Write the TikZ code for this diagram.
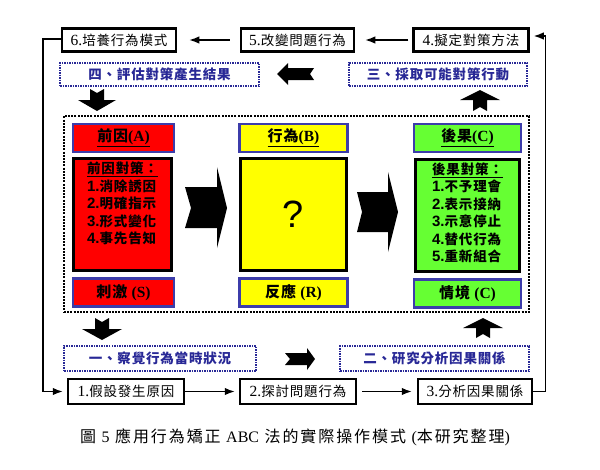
\documentclass[tikz,border=0pt]{standalone}
\usepackage{fontspec}
\setmainfont{Liberation Serif}
\setsansfont{Liberation Sans}
\newfontfamily\cjk{Noto Sans CJK TC}[LetterSpace=6]
\usepackage{tikz}
\usetikzlibrary{arrows.meta,positioning,calc}
\definecolor{antred}{RGB}{255,0,0}
\definecolor{behyellow}{RGB}{255,255,0}
\definecolor{conqgreen}{RGB}{102,255,51}
\definecolor{edgeblue}{RGB}{60,60,170}
\definecolor{stepnavy}{RGB}{40,40,150}
\newcommand{\latpart}[1]{{\rmfamily\fontsize{15.5}{16}\selectfont #1}}
\newcommand{\itemno}[1]{{\sffamily\fontsize{15}{17.5}\selectfont #1}}

\begin{document}
\begin{tikzpicture}[x=1pt, y=-1pt,
        stepbox/.style={draw, line width=2.5pt, minimum width=113pt, minimum height=23pt, inner sep=0pt, font=\fontsize{13.5}{14}\selectfont\cjk},
        phase/.style={draw=stepnavy, line width=2pt, dash pattern=on 1.5pt off 1pt, minimum height=23pt, inner sep=0pt, text=stepnavy, font=\fontsize{13.5}{14}\selectfont\cjk\bfseries},
        frame/.style={draw, line width=2.5pt, dash pattern=on 2pt off 1.2pt, inner sep=0pt},
        head/.style={draw=edgeblue, line width=2.5pt, minimum height=28pt, inner sep=0pt, font=\fontsize{15}{16}\selectfont\cjk\bfseries},
        core/.style={draw=black, line width=3pt, minimum height=112pt, inner sep=0pt},
        list/.style={align=left, inner sep=0pt, font=\fontsize{13.5}{17.5}\selectfont\cjk\bfseries},
        arrow/.style={-{Latex[length=10pt,width=7.5pt]}, line width=1.5pt}]

        \useasboundingbox (0,0) rectangle (600,469);

        \node[stepbox, minimum width=114pt] (six) at (119,40) {\latpart{6.}培養行為模式};
        \node[stepbox] (five) at (297.5,40) {\latpart{5.}改變問題行為};
        \node[stepbox, minimum width=115pt] (four) at (471,40) {\latpart{4.}擬定對策方法};
        \node[stepbox, minimum width=116pt, minimum height=25pt] (one) at (126,391.5) {\latpart{1.}假設發生原因};
        \node[stepbox, minimum width=116pt, minimum height=25pt] (two) at (298,391.5) {\latpart{2.}探討問題行為};
        \node[stepbox, minimum width=114pt, minimum height=25pt] (three) at (475,391.5) {\latpart{3.}分析因果關係};

        \node[phase, minimum width=199pt] (eval) at (159.5,74.5) {四、評估對策產生結果};
        \node[phase, minimum width=178pt] (act) at (438,74.5) {三、採取可能對策行動};
        \node[phase, minimum width=192pt, minimum height=25pt] (aware) at (160,358.5) {一、察覺行為當時狀況};
        \node[phase, minimum width=189pt, minimum height=25pt] (study) at (434.5,358.5) {二、研究分析因果關係};

        \node[frame, minimum width=465pt, minimum height=196pt] (abc) at (296.5,214) {};

        \node[head, fill=antred, minimum width=101pt] (ante) at (123.5,138) {\underline{前因\latpart{(A)}}};
        \node[core, fill=antred, minimum width=98pt] (antecore) at (122.5,214.5) {};
        \node[head, fill=antred, minimum width=101pt] (stim) at (123.5,292.5) {刺激 \latpart{(S)}};
        \node[head, fill=behyellow, minimum width=108pt] (beh) at (293.5,138) {\underline{行為\latpart{(B)}}};
        \node[core, fill=behyellow, minimum width=106pt] (behcore) at (293.5,214.5) {};
        \node[head, fill=behyellow, minimum width=108pt] (resp) at (293.5,292.5) {反應 \latpart{(R)}};
        \node[head, fill=conqgreen, minimum width=107pt] (conq) at (467.5,138) {\underline{後果\latpart{(C)}}};
        \node[core, fill=conqgreen, minimum width=104pt] (conqcore) at (467.5,215) {};
        \node[head, fill=conqgreen, minimum width=107pt] (setting) at (467.5,293.5) {情境 \latpart{(C)}};

        \node[list, anchor=north] (antetext) at ([yshift=-5pt]antecore.north) {\underline{前因對策：}\\ \itemno{1.}消除誘因\\ \itemno{2.}明確指示\\ \itemno{3.}形式變化\\ \itemno{4.}事先告知};
        \node[font=\sffamily\fontsize{38}{40}\selectfont] (what) at (behcore) {?};
        \node[list, anchor=north] (conqtext) at ([yshift=-5pt]conqcore.north) {\underline{後果對策：}\\ \itemno{1.}不予理會\\ \itemno{2.}表示接納\\ \itemno{3.}示意停止\\ \itemno{4.}替代行為\\ \itemno{5.}重新組合};

        \fill (185,187) -- (217,187) -- (217,167) -- (227,208) -- (217,248) -- (217,228) -- (185,228) -- (191,208) -- cycle;
        \fill (357,192) -- (388,192) -- (388,172) -- (398,212) -- (388,252) -- (388,232) -- (357,232) -- (362,212) -- cycle;
        \fill (277,74) -- (288,63) -- (288,68) -- (314,68) -- (310,74) -- (314,80) -- (288,80) -- (288,85) -- cycle;
        \fill (315,359) -- (307,348) -- (307,353) -- (285,353) -- (290,359) -- (285,365) -- (307,365) -- (307,370) -- cycle;
        \fill (90,89) -- (97,93) -- (104,89) -- (104,100) -- (116,100) -- (97,111) -- (78,100) -- (90,100) -- cycle;
        \fill (95,318) -- (102,322) -- (109,318) -- (109,329) -- (122,329) -- (102,340) -- (82,329) -- (95,329) -- cycle;
        \fill (473,111) -- (480,107) -- (487,111) -- (487,100) -- (500,100) -- (480,90) -- (460,100) -- (473,100) -- cycle;
        \fill (476,338) -- (483,334) -- (490,338) -- (490,328) -- (503,328) -- (483,318) -- (463,328) -- (476,328) -- cycle;

        \draw[arrow, shorten <=4pt, shorten >=10pt] (four) -- (five);
        \draw[arrow, shorten <=10pt, shorten >=12pt] (five) -- (six);
        \draw[arrow, shorten >=4pt] (one) -- (two);
        \draw[arrow, shorten <=5pt, shorten >=5pt] (two) -- (three);
        \draw[arrow, shorten >=4pt] (three.east) -- ++(12,0) |- ([yshift=4pt]four.east);
        \draw[arrow, shorten >=4pt] ([yshift=1pt]six.west) -- ++(-18,0) |- (one.west);

        \node[font=\fontsize{16}{17}\selectfont\cjk\addfontfeatures{LetterSpace=12}] (caption) at (295,437) {圖 {\rmfamily 5} 應用行為矯正 {\rmfamily ABC} 法的實際操作模式 {\rmfamily(}本研究整理{\rmfamily)}};

    \end{tikzpicture}
\end{document}
